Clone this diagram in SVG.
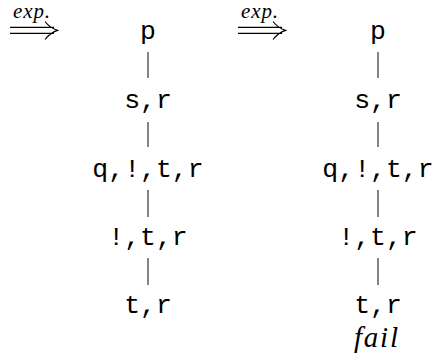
<svg xmlns="http://www.w3.org/2000/svg" width="436" height="358" viewBox="0 0 436 358">
<style>
.n{font-family:"Liberation Mono","Courier New",monospace;font-size:26.5px;fill:#000;text-anchor:middle}
.it{font-family:"Liberation Serif","Times New Roman",serif;font-style:italic;fill:#000}
.e{stroke:#222;stroke-width:1.1;fill:none}
.ar{stroke:#000;stroke-width:1.2;fill:none}
</style>
<rect width="436" height="358" fill="#fff"/>
<g id="arrow1">
<text class="it" x="13" y="18" font-size="21" textLength="37">exp.</text>
<path class="ar" d="M10,27.4H54M10,33.4H54M45,21.5Q50,28 57.5,30.4Q50,33 45,39.5"/>
</g>
<g id="arrow2">
<text class="it" x="241" y="18" font-size="21" textLength="37">exp.</text>
<path class="ar" d="M238,27.4H282M238,33.4H282M273,21.5Q278,28 285.5,30.4Q278,33 273,39.5"/>
</g>
<g id="connectors">
<path class="e" d="M148,52V78M148,122V147M148,190V217M148,258V285"/>
<path class="e" d="M378,52V78M378,122V147M378,190V217M378,258V285"/>
</g>
<g id="L1"><text class="n" x="148" y="38.5">p</text></g>
<g id="L2"><text class="n" x="148" y="107.5">s,r</text></g>
<g id="L3"><text class="n" x="148" y="176.5">q,!,t,r</text></g>
<g id="L4"><text class="n" x="148" y="245">!,t,r</text></g>
<g id="L5"><text class="n" x="148" y="313">t,r</text></g>
<g id="R1"><text class="n" x="378" y="38.5">p</text></g>
<g id="R2"><text class="n" x="378" y="107.5">s,r</text></g>
<g id="R3"><text class="n" x="378" y="176.5">q,!,t,r</text></g>
<g id="R4"><text class="n" x="378" y="245">!,t,r</text></g>
<g id="R5"><text class="n" x="378" y="313">t,r</text></g>
<g id="fail"><text class="it" x="376" y="347" font-size="29" text-anchor="middle" textLength="44">fail</text></g>
</svg>
